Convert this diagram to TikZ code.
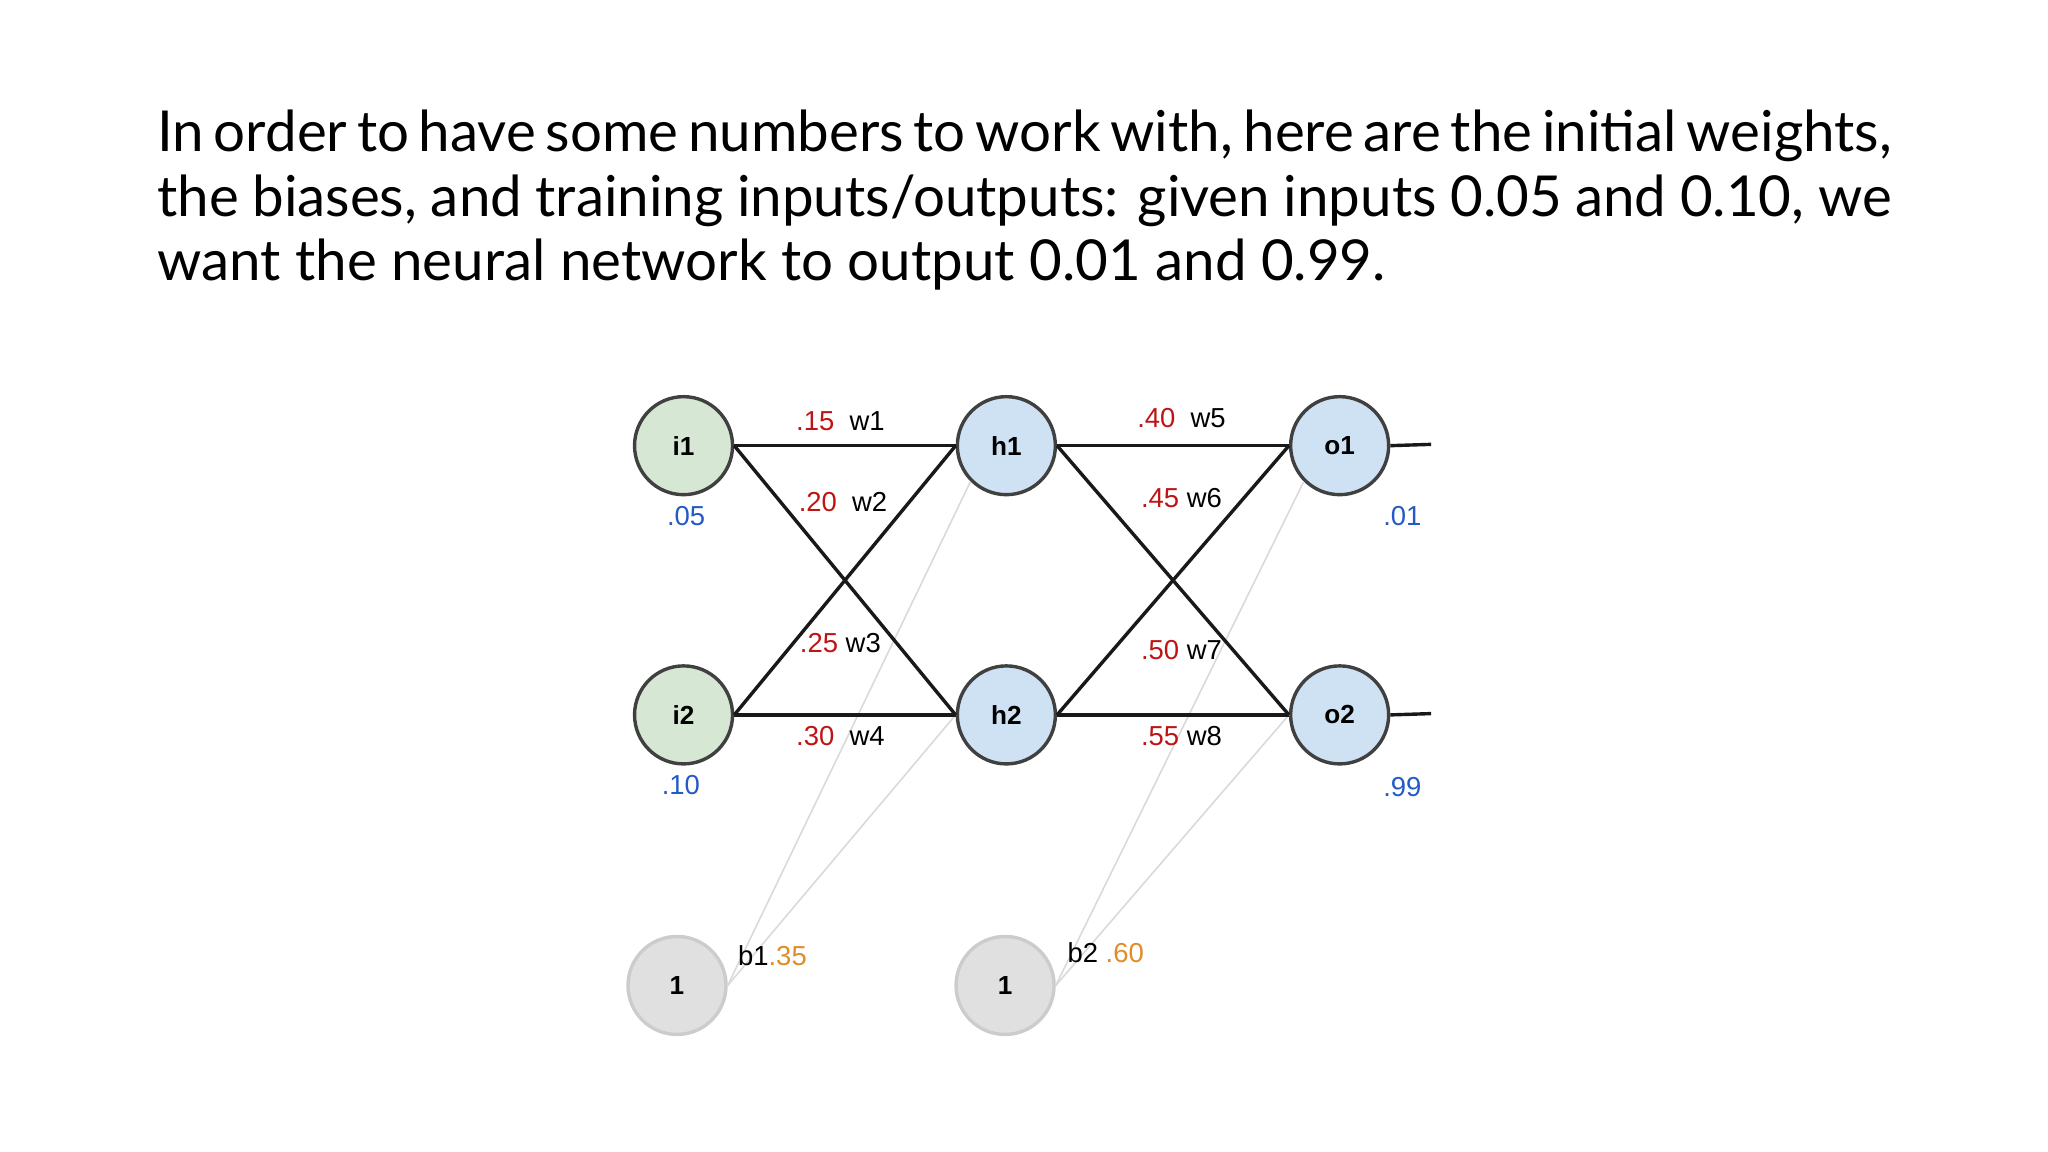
\documentclass[tikz,border=0pt]{standalone}
\usepackage{fontspec}
\setmainfont{Lato}
\newfontfamily\arial{Liberation Sans}
\definecolor{wred}{RGB}{190,20,20}
\definecolor{vblue}{RGB}{35,90,200}
\definecolor{borange}{RGB}{225,140,40}
\begin{document}
\begin{tikzpicture}[x=0.5pt,y=-0.5pt,
  neuron/.style={circle,draw=black!75,line width=1.3pt,minimum size=37.5pt,inner sep=0pt,font=\arial\bfseries\fontsize{10}{12}\selectfont},
  inp/.style={neuron,fill={rgb,255:red,214;green,232;blue,212}},
  hid/.style={neuron,fill={rgb,255:red,207;green,226;blue,243}},
  bias/.style={neuron,draw=black!20,fill=black!12},
  w/.style={line width=1.3pt,black!90},
  bl/.style={line width=0.6pt,black!15},
  lab/.style={font=\arial\fontsize{10.5}{12}\selectfont,inner sep=0pt},
  bv/.style={text=vblue}]
\useasboundingbox (0,0) rectangle (1567,881);
\node[anchor=north west,inner sep=0pt,text width=663.5pt,align=justify,font=\fontsize{21.6}{24.6}\selectfont] (para) at (120,84)
 {In order to have some numbers to work with, here are the initial weights, the biases, and training inputs/outputs: given inputs 0.05 and 0.10, we want the neural network to output 0.01 and 0.99.};
\node[inp] (i1) at (523,341) {i1};
\node[inp] (i2) at (523,547) {i2};
\node[hid] (h1) at (770,341) {h1};
\node[hid] (h2) at (770,547) {h2};
\node[hid] (o1) at (1025,341) {o1};
\node[hid] (o2) at (1025,547) {o2};
\node[bias] (b1) at (518,754) {1};
\node[bias] (b2) at (769,754) {1};
\coordinate (e1) at (1095,340);
\coordinate (e2) at (1095,546);
\draw[bl] (b1.east) -- (h1.south west);
\draw[bl] (b1.east) -- (h2.west);
\draw[bl] (b2.east) -- (o1.south west);
\draw[bl] (b2.east) -- (o2.west);
\draw[w] (i1.east) -- (h1.west);
\draw[w] (i1.east) -- (h2.west);
\draw[w] (i2.east) -- (h1.west);
\draw[w] (i2.east) -- (h2.west);
\draw[w] (h1.east) -- (o1.west);
\draw[w] (h1.east) -- (o2.west);
\draw[w] (h2.east) -- (o1.west);
\draw[w] (h2.east) -- (o2.west);
\draw[w] (o1.east) -- (e1);
\draw[w] (o2.east) -- (e2);
\node[lab] (l1) at (643,322) {\textcolor{wred}{.15}\ \ w1};
\node[lab] (l2) at (645,384) {\textcolor{wred}{.20}\ \ w2};
\node[lab] (l3) at (643,492) {\textcolor{wred}{.25} w3};
\node[lab] (l4) at (643,563) {\textcolor{wred}{.30}\ \ w4};
\node[lab] (l5) at (904,320) {\textcolor{wred}{.40}\ \ w5};
\node[lab] (l6) at (904,381) {\textcolor{wred}{.45} w6};
\node[lab] (l7) at (904,497) {\textcolor{wred}{.50} w7};
\node[lab] (l8) at (904,563) {\textcolor{wred}{.55} w8};
\node[lab,bv] (v1) at (525,395) {.05};
\node[lab,bv] (v2) at (521,601) {.10};
\node[lab,bv] (v3) at (1073,395) {.01};
\node[lab,bv] (v4) at (1073,602) {.99};
\node[lab] (bb1) at (591,731) {b1\textcolor{borange}{.35}};
\node[lab] (bb2) at (846,729) {b2 \textcolor{borange}{.60}};
\end{tikzpicture}
\end{document}
